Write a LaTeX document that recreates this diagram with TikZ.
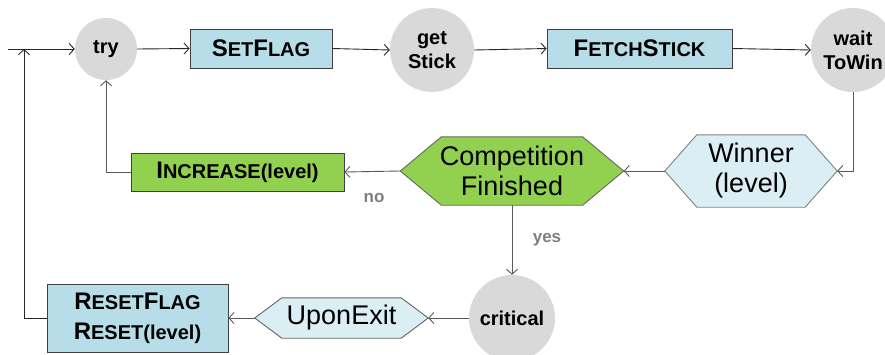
\documentclass[tikz,border=0pt]{standalone}
\usepackage{fontspec}
\setmainfont{Liberation Sans}
\usetikzlibrary{arrows.meta,backgrounds}
\definecolor{boxblue}{HTML}{B7DEE8}
\definecolor{hexblue}{HTML}{DAEEF3}
\definecolor{lgreen}{HTML}{92D050}
\definecolor{cgray}{HTML}{D9D9D9}
\definecolor{lgray}{HTML}{595959}
\definecolor{tgray}{HTML}{7F7F7F}
\newcommand\bigc[1]{{\fontsize{24}{28}\selectfont #1}}
\tikzset{
 state/.style={circle, fill=cgray, inner sep=0, minimum size=#1, font=\fontsize{20}{24}\selectfont\bfseries, align=center},
 procbox/.style={draw=black!75, line width=0.8pt, inner sep=0, font=\fontsize{20}{30}\selectfont\bfseries, align=center},
 hexnode/.style={inner sep=0, font=\fontsize{27}{30}\selectfont, align=center},
 conn/.style={draw=lgray, line width=0.9pt, -{Straight Barb[length=5pt,width=11pt]}},
 conndark/.style={conn, draw=black!85},
 lbl/.style={text=tgray, font=\fontsize{17}{20}\selectfont\bfseries},
}
\newcommand\hexpath[4]{%
 \begin{scope}[on background layer]
 \draw[fill=#3, draw=#4, line width=0.9pt] (#1.west) -- ([xshift=#2]#1.north west) -- ([xshift=-#2]#1.north east) -- (#1.east) -- ([xshift=-#2]#1.south east) -- ([xshift=#2]#1.south west) -- cycle;
 \end{scope}}
\begin{document}
\begin{tikzpicture}[x=1pt,y=-1pt]
\useasboundingbox (0,0) rectangle (885,354);
\clip (0,0) rectangle (885,354);
\node[state=62] (try) at (106,49) {try};
\node[procbox, fill=boxblue, minimum width=142, minimum height=39] (setflag) at (261,48.5) {\bigc{S}ET\bigc{F}LAG};
\node[state=84] (get) at (432,50) {get\\Stick};
\node[procbox, fill=boxblue, minimum width=185, minimum height=39] (fetch) at (639.5,48.5) {\bigc{F}ETCH\bigc{S}TICK};
\node[state=84] (wait) at (853,50) {wait\\ToWin};
\node[hexnode, minimum width=172, minimum height=72] (win) at (751,171) {Winner\\(level)};
\hexpath{win}{32pt}{hexblue}{black!50}
\node[hexnode, minimum width=223, minimum height=68] (comp) at (512,171) {Competition\\Finished};
\hexpath{comp}{41pt}{lgreen}{black!60}
\node[procbox, fill=lgreen, minimum width=213, minimum height=38] (inc) at (237.5,172) {\bigc{I}NCREASE(level)};
\node[state=86] (crit) at (512,318) {critical};
\node[hexnode, minimum width=173, minimum height=40] (exit) at (341.5,318) {UponExit};
\hexpath{exit}{27pt}{hexblue}{black!60}
\node[procbox, fill=boxblue, minimum width=181, minimum height=68] (reset) at (137.5,318) {\bigc{R}ESET\bigc{F}LAG\\\bigc{R}ESET(level)};
\node[lbl] (no) at (374,198) {no};
\node[lbl] (yes) at (547,240) {yes};
\coordinate (start) at (8,49);
\coordinate (join) at (24,49);
\draw[conndark] (start) -- (try.west);
\draw[conndark] (try.east) -- (setflag.west);
\draw[conndark] (setflag.east) -- (get.west);
\draw[conndark] (get.east) -- (fetch.west);
\draw[conndark] (fetch.east) -- (wait.west);
\draw[conn] (wait.south) |- (win.east);
\draw[conn] (win.west) -- (comp.east);
\draw[conn] (comp.west) -- (inc.east);
\draw[conn] (inc.west) -| (try.south);
\draw[conn] (comp.south) -- (crit.north);
\draw[conn] (crit.west) -- (exit.east);
\draw[conn] (exit.west) -- (reset.east);
\draw[conndark] (reset.west) -| (join);
\end{tikzpicture}
\end{document}
